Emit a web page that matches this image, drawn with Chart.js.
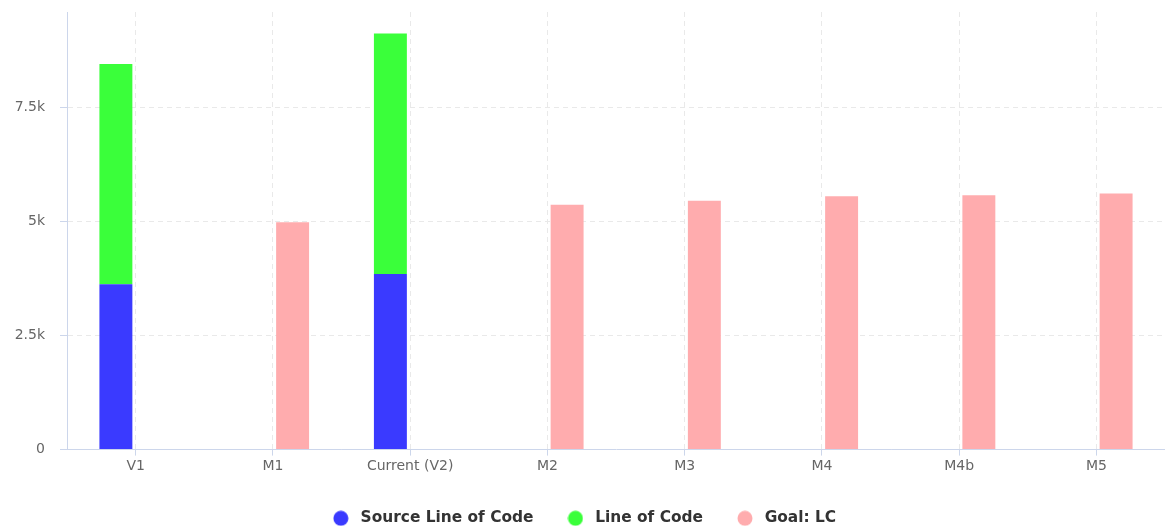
<!DOCTYPE html>
<html>
<head>
<meta charset="utf-8">
<script src="https://cdn.jsdelivr.net/npm/chart.js@4/dist/chart.umd.min.js"></script>
<style>
	html, body { margin: 0; padding: 0; background: #fff; }
	#wrap { width: 1165px; height: 526px; }
</style>
</head>
<body>
<div id="wrap"><canvas id="my-chart" width="1165" height="526"></canvas></div>
<script>
//==========
// Data

const categories = ["V1", "M1", "Current (V2)", "M2", "M3", "M4", "M4b", "M5"];
const sourceLoc = [3630, null, 3850, null, null, null, null, null];
const lineOfCode = [4830, null, 5280, null, null, null, null, null];// stacked on top of source
const goalLc = [null, 4990, null, 5370, 5460, 5560, 5580, 5620];
const yTicks = [0, 2500, 5000, 7500];
const yMax = 9600;

//==========
// Chart

function fmtK(v){
	if(v === 0) return "0";
	return (v / 1000) + "k";
}

// legend dot drawn as a small canvas (keeps the round shape with a wider box)
function dot(color){
	const c = document.createElement("canvas");
	c.width = 16;
	c.height = 16;
	const g = c.getContext("2d");
	g.fillStyle = color;
	g.beginPath();
	g.arc(8, 8, 7.5, 0, Math.PI * 2);
	g.fill();
	return c;
}

function showChart(){
	const ctx = document.getElementById("my-chart").getContext("2d");
	const axisColor = "#ccd6eb";
	const gridColor = "#e9e9e9";
	const blue = "#3a3aff", green = "#3aff3a", pink = "#ffacae";
	new Chart(ctx, {
		type: "bar",
		data: {
			labels: categories,
			datasets: [{
				label: "Source Line of Code",
				data: sourceLoc,
				backgroundColor: blue,
				pointStyle: dot(blue),
				stack: "loc"
			}, {
				label: "Line of Code",
				data: lineOfCode,
				backgroundColor: green,
				pointStyle: dot(green),
				stack: "loc"
			}, {
				label: "Goal: LC",
				data: goalLc,
				backgroundColor: pink,
				pointStyle: dot(pink),
				stack: "goal"
			}]
		},
		options: {
			responsive: false,
			animation: false,
			categoryPercentage: 0.575,
			barPercentage: 0.835,
			layout: {padding: {top: 12, left: 0, right: 0, bottom: -10}},
			plugins: {
				tooltip: {enabled: false},
				legend: {
					position: "bottom",
					labels: {
						usePointStyle: true,
						pointStyleWidth: 24,
						boxHeight: 15,
						padding: 30,
						color: "#333",
						font: {family: "DejaVu Sans", size: 15.4, weight: "bold"}
					}
				}
			},
			scales: {
				x: {
					stacked: true,
					border: {color: axisColor, width: 1, dash: [5, 4]},
					grid: {
						offset: false,
						color: gridColor,
						tickColor: axisColor,
						tickLength: 6,
						tickBorderDash: []
					},
					ticks: {
						color: "#666",
						padding: 2,
						maxRotation: 0,
						font: {family: "DejaVu Sans", size: 14}
					},
					afterFit: function(scale){ scale.height = 31; }
				},
				y: {
					stacked: true,
					min: 0,
					max: yMax,
					border: {color: axisColor, width: 1, dash: [5, 4]},
					grid: {
						color: gridColor,
						tickColor: axisColor,
						tickLength: 7,
						tickBorderDash: []
					},
					ticks: {
						color: "#666",
						padding: 15,
						font: {family: "DejaVu Sans", size: 14},
						callback: function(v){ return fmtK(v); }
					},
					afterBuildTicks: function(scale){
						scale.ticks = yTicks.map(v => ({value: v}));
					},
					afterFit: function(scale){
						scale.width = 67;
						scale.paddingTop = 0;
						scale.paddingBottom = 0;
					}
				}
			}
		}
	});
}

showChart();
</script>
</body>
</html>
